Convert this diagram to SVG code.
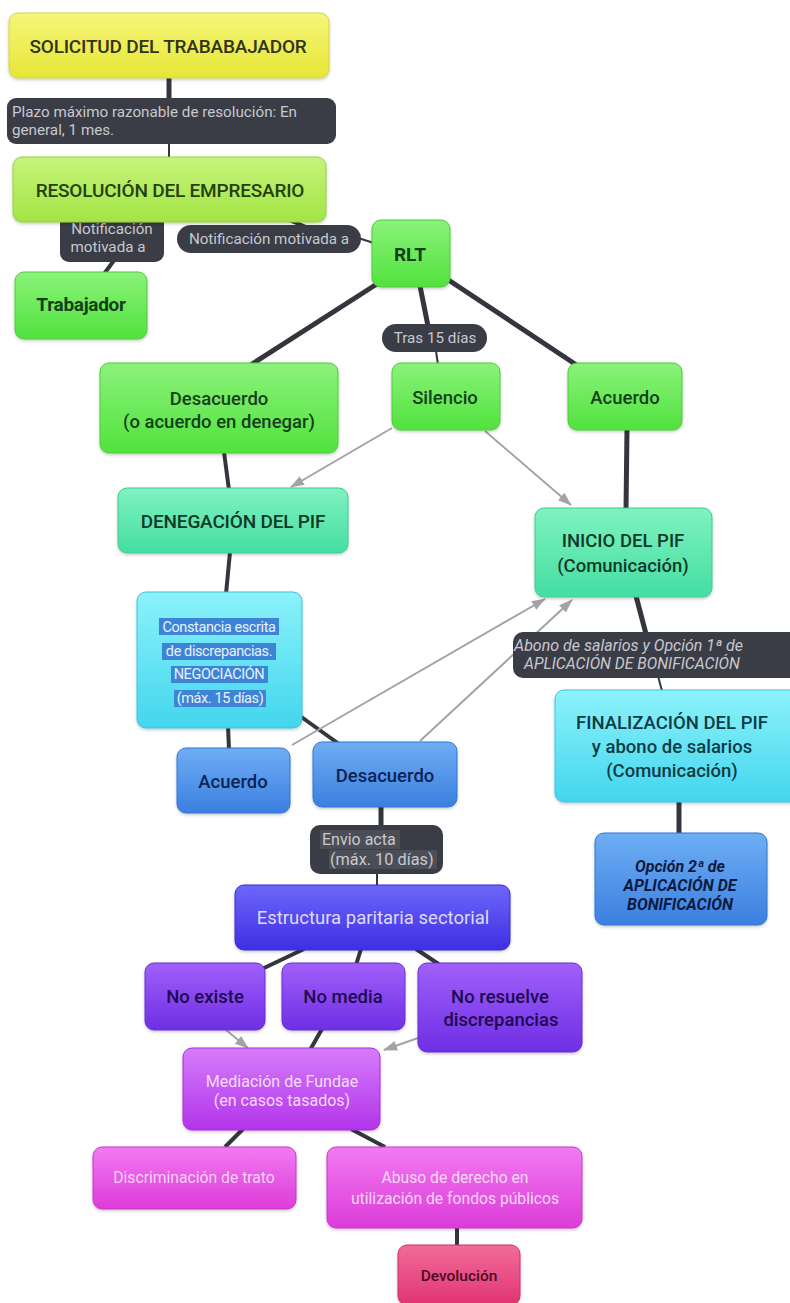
<svg xmlns="http://www.w3.org/2000/svg" width="790" height="1303" viewBox="0 0 790 1303">
  <defs>
    <linearGradient id="g-yellow" x1="0" y1="0" x2="0" y2="1">
      <stop offset="0" stop-color="#f6f67a"/><stop offset="1" stop-color="#e6e636"/>
    </linearGradient>
    <linearGradient id="g-lime" x1="0" y1="0" x2="0" y2="1">
      <stop offset="0" stop-color="#c6f47a"/><stop offset="1" stop-color="#a2e444"/>
    </linearGradient>
    <linearGradient id="g-green" x1="0" y1="0" x2="0" y2="1">
      <stop offset="0" stop-color="#8af27a"/><stop offset="1" stop-color="#52e23e"/>
    </linearGradient>
    <linearGradient id="g-mint" x1="0" y1="0" x2="0" y2="1">
      <stop offset="0" stop-color="#7ff2c0"/><stop offset="1" stop-color="#44dea2"/>
    </linearGradient>
    <linearGradient id="g-cyan" x1="0" y1="0" x2="0" y2="1">
      <stop offset="0" stop-color="#8cf2fa"/><stop offset="1" stop-color="#42d6ee"/>
    </linearGradient>
    <linearGradient id="g-blue" x1="0" y1="0" x2="0" y2="1">
      <stop offset="0" stop-color="#6eaef4"/><stop offset="1" stop-color="#3b7fe0"/>
    </linearGradient>
    <linearGradient id="g-indigo" x1="0" y1="0" x2="0" y2="1">
      <stop offset="0" stop-color="#6e66fa"/><stop offset="1" stop-color="#3e2fe2"/>
    </linearGradient>
    <linearGradient id="g-violet" x1="0" y1="0" x2="0" y2="1">
      <stop offset="0" stop-color="#a060fa"/><stop offset="1" stop-color="#6e2ee4"/>
    </linearGradient>
    <linearGradient id="g-purple" x1="0" y1="0" x2="0" y2="1">
      <stop offset="0" stop-color="#d67cfa"/><stop offset="1" stop-color="#b234ea"/>
    </linearGradient>
    <linearGradient id="g-magenta" x1="0" y1="0" x2="0" y2="1">
      <stop offset="0" stop-color="#f27af2"/><stop offset="1" stop-color="#dc3cd8"/>
    </linearGradient>
    <linearGradient id="g-pink" x1="0" y1="0" x2="0" y2="1">
      <stop offset="0" stop-color="#f26c9a"/><stop offset="1" stop-color="#e03472"/>
    </linearGradient>
    <filter id="soft" x="-10%" y="-10%" width="120%" height="130%">
      <feDropShadow dx="0" dy="1.5" stdDeviation="1.5" flood-color="#000" flood-opacity="0.22"/>
    </filter>
    <marker id="arrow" viewBox="0 0 14 10" refX="13" refY="5" markerWidth="14" markerHeight="10" markerUnits="userSpaceOnUse" orient="auto">
      <path d="M0,0 L14,5 L0,10 Z" fill="#a3a3a6"/>
    </marker>
  </defs>
  <style>
    text { font-family: Roboto, "Liberation Sans", sans-serif; text-anchor: middle; }
    .node rect.box { filter: url(#soft); stroke-width: 1; }
    .node text { font-weight: 500; }
    .t18 { font-size: 18.5px; }
    .t16 { font-size: 16px; }
    .caps { font-size: 19px; letter-spacing: -0.2px; }
    .pill { fill: #3a3c46; }
    .pill-text { font-size: 15.2px; fill: #c8c9cf; }
    .thick { stroke: #34363e; stroke-width: 5; fill: none; stroke-linecap: butt; }
    .mid { stroke: #34363e; stroke-width: 4; fill: none; }
    .thin { stroke: #34363e; stroke-width: 2; fill: none; }
    .flow { stroke: #a3a3a6; stroke-width: 2; fill: none; marker-end: url(#arrow); }
  </style>

  <rect x="0" y="0" width="790" height="1303" fill="#ffffff"/>

  <!-- connectors -->
  <g id="connectors">
    <line class="thick" x1="169" y1="78" x2="169" y2="99"/>
    <line class="thin" x1="169" y1="143" x2="169" y2="158"/>
    <line class="mid" x1="90" y1="215" x2="108" y2="240"/>
    <line class="mid" x1="115" y1="259" x2="104" y2="274"/>
    <line class="mid" x1="270" y1="212" x2="318" y2="232"/>
    <line class="thin" x1="358" y1="238" x2="374" y2="243"/>
    <line class="thick" x1="380" y1="282" x2="249" y2="366" stroke-width="5.5"/>
    <line class="thick" x1="420" y1="286" x2="428" y2="326"/>
    <line class="thin" x1="436" y1="351" x2="438" y2="365"/>
    <line class="thick" x1="447" y1="279" x2="578" y2="366" stroke-width="5.5"/>
    <line class="mid" x1="224" y1="452" x2="229" y2="490"/>
    <line class="thick" x1="627" y1="429" x2="626" y2="510"/>
    <line class="mid" x1="230" y1="552" x2="226" y2="594"/>
    <line class="mid" x1="228" y1="726" x2="229" y2="750"/>
    <line class="mid" x1="300" y1="716" x2="339" y2="744"/>
    <line class="thick" x1="636" y1="596" x2="646" y2="634"/>
    <line class="thin" x1="658" y1="676" x2="662" y2="691"/>
    <line class="thick" x1="679" y1="801" x2="679" y2="835"/>
    <line class="thick" x1="381" y1="806" x2="381" y2="826"/>
    <line class="thin" x1="377" y1="872" x2="377" y2="887"/>
    <line class="mid" x1="304" y1="949" x2="262" y2="969"/>
    <line class="mid" x1="361" y1="949" x2="356" y2="965"/>
    <line class="mid" x1="416" y1="949" x2="440" y2="965"/>
    <line class="mid" x1="322" y1="1029" x2="310" y2="1050"/>
    <line class="mid" x1="243" y1="1129" x2="225" y2="1147"/>
    <line class="mid" x1="351" y1="1129" x2="385" y2="1147"/>
    <line class="mid" x1="457" y1="1226" x2="457" y2="1246"/>
    <!-- directed links -->
    <line class="flow" x1="392" y1="428" x2="291" y2="487"/>
    <line class="flow" x1="485" y1="431" x2="571" y2="505"/>
    <line class="flow" x1="292" y1="745" x2="545" y2="599"/>
    <line class="flow" x1="420" y1="741" x2="572" y2="600"/>
    <line class="flow" x1="226" y1="1030" x2="248" y2="1048"/>
    <line class="flow" x1="418" y1="1038" x2="384" y2="1050"/>
  </g>

  <!-- connector labels -->
  <g id="lbl-plazo">
    <rect class="pill" x="7" y="98" width="329" height="46" rx="9"/>
    <text class="pill-text" x="12" y="117" style="text-anchor:start">Plazo máximo razonable de resolución: En</text>
    <text class="pill-text" x="12" y="135" style="text-anchor:start">general, 1 mes.</text>
  </g>
  <g id="lbl-notif-trab">
    <rect class="pill" x="60" y="214" width="104" height="48" rx="9"/>
    <text class="pill-text" x="112" y="234">Notificación</text>
    <text class="pill-text" x="108" y="252">motivada a</text>
  </g>
  <g id="lbl-notif-rlt">
    <rect class="pill" x="177" y="225" width="184" height="28" rx="14"/>
    <text class="pill-text" x="269" y="244">Notificación motivada a</text>
  </g>
  <g id="lbl-tras">
    <rect class="pill" x="382" y="324" width="105" height="28" rx="14"/>
    <text class="pill-text" x="435" y="343">Tras 15 días</text>
  </g>
  <g id="lbl-abono">
    <rect class="pill" x="513" y="632" width="290" height="46" rx="10"/>
    <text class="pill-text" x="514" y="651" style="text-anchor:start;font-style:italic;font-size:16px">Abono de salarios y Opción 1ª de</text>
    <text class="pill-text" x="524" y="669" style="text-anchor:start;font-style:italic;font-size:15.7px">APLICACIÓN DE BONIFICACIÓN</text>
  </g>
  <g id="lbl-envio">
    <rect class="pill" x="310" y="825" width="133" height="49" rx="10"/>
    <rect x="320" y="830" width="80" height="19" fill="#4c4e57"/>
    <rect x="329" y="850" width="108" height="19" fill="#4c4e57"/>
    <text class="pill-text" x="322" y="845" style="text-anchor:start;font-size:16px">Envio acta</text>
    <text class="pill-text" x="330" y="865" style="text-anchor:start;font-size:16.3px">(máx. 10 días)</text>
  </g>

  <!-- nodes -->
  <g id="n-solicitud" class="node">
    <rect class="box" x="9" y="13" width="320" height="65" rx="9" fill="url(#g-yellow)" stroke="#d4d44a"/>
    <text class="caps" x="168" y="53" fill="#33331a">SOLICITUD DEL TRABABAJADOR</text>
  </g>
  <g id="n-resolucion" class="node">
    <rect class="box" x="13" y="157" width="313" height="65" rx="9" fill="url(#g-lime)" stroke="#94d23e"/>
    <text class="caps" x="170" y="197" fill="#27400e">RESOLUCIÓN DEL EMPRESARIO</text>
  </g>
  <g id="n-trabajador" class="node">
    <rect class="box" x="15" y="272" width="132" height="67" rx="9" fill="url(#g-green)" stroke="#4ccc3a"/>
    <text x="81" y="311" fill="#14401a" font-size="19" style="font-weight:700" letter-spacing="-0.3">Trabajador</text>
  </g>
  <g id="n-rlt" class="node">
    <rect class="box" x="372" y="220" width="78" height="67" rx="9" fill="url(#g-green)" stroke="#4ccc3a"/>
    <text x="410" y="261" fill="#14401a" font-size="19" style="font-weight:700">RLT</text>
  </g>
  <g id="n-desacuerdo-rlt" class="node">
    <rect class="box" x="100" y="363" width="238" height="90" rx="9" fill="url(#g-green)" stroke="#4ccc3a"/>
    <text class="t18" x="219" y="405" fill="#14401a">Desacuerdo</text>
    <text class="t18" x="219" y="428" fill="#14401a">(o acuerdo en denegar)</text>
  </g>
  <g id="n-silencio" class="node">
    <rect class="box" x="392" y="363" width="108" height="67" rx="9" fill="url(#g-green)" stroke="#4ccc3a"/>
    <text class="t18" x="445" y="404" fill="#14401a">Silencio</text>
  </g>
  <g id="n-acuerdo-rlt" class="node">
    <rect class="box" x="568" y="363" width="114" height="67" rx="9" fill="url(#g-green)" stroke="#4ccc3a"/>
    <text class="t18" x="625" y="404" fill="#14401a">Acuerdo</text>
  </g>
  <g id="n-denegacion" class="node">
    <rect class="box" x="118" y="488" width="230" height="65" rx="9" fill="url(#g-mint)" stroke="#3ccc92"/>
    <text class="caps" x="233" y="528" fill="#0f3a28">DENEGACIÓN DEL PIF</text>
  </g>
  <g id="n-inicio" class="node">
    <rect class="box" x="535" y="508" width="177" height="89" rx="9" fill="url(#g-mint)" stroke="#3ccc92"/>
    <text class="t18" x="623" y="547" fill="#0f3a28">INICIO DEL PIF</text>
    <text class="t18" x="623" y="572" fill="#0f3a28">(Comunicación)</text>
  </g>
  <g id="n-constancia" class="node">
    <rect class="box" x="137" y="592" width="165" height="136" rx="9" fill="url(#g-cyan)" stroke="#3cc4dc"/>
    <rect x="159" y="618" width="120" height="17" fill="#3e84d6"/>
    <rect x="162" y="643" width="114" height="17" fill="#3e84d6"/>
    <rect x="171" y="666" width="97" height="17" fill="#3e84d6"/>
    <rect x="174" y="690" width="92" height="17" fill="#3e84d6"/>
    <text x="219" y="632" fill="#e6f2ff" font-size="14.5" style="font-weight:400" letter-spacing="-0.4">Constancia escrita</text>
    <text x="219" y="656" fill="#e6f2ff" font-size="14.5" style="font-weight:400" letter-spacing="-0.4">de discrepancias.</text>
    <text x="219" y="679" fill="#e6f2ff" font-size="14.5" style="font-weight:400" letter-spacing="-0.4">NEGOCIACIÓN</text>
    <text x="220" y="703" fill="#e6f2ff" font-size="14.5" style="font-weight:400" letter-spacing="-0.4">(máx. 15 días)</text>
  </g>
  <g id="n-finalizacion" class="node">
    <rect class="box" x="555" y="690" width="245" height="112" rx="9" fill="url(#g-cyan)" stroke="#3cc4dc"/>
    <text class="t18" x="672" y="729" fill="#0e3b44">FINALIZACIÓN DEL PIF</text>
    <text class="t18" x="672" y="753" fill="#0e3b44">y abono de salarios</text>
    <text class="t18" x="672" y="777" fill="#0e3b44">(Comunicación)</text>
  </g>
  <g id="n-acuerdo-neg" class="node">
    <rect class="box" x="177" y="748" width="113" height="65" rx="9" fill="url(#g-blue)" stroke="#3474d2"/>
    <text class="t18" x="233" y="788" fill="#0c2352">Acuerdo</text>
  </g>
  <g id="n-desacuerdo-neg" class="node">
    <rect class="box" x="313" y="742" width="144" height="65" rx="9" fill="url(#g-blue)" stroke="#3474d2"/>
    <text class="t18" x="385" y="782" fill="#0c2352">Desacuerdo</text>
  </g>
  <g id="n-opcion2" class="node">
    <rect class="box" x="595" y="833" width="172" height="92" rx="9" fill="url(#g-blue)" stroke="#3474d2"/>
    <text x="680" y="872" fill="#0a1a40" font-size="16" style="font-weight:700" font-style="italic">Opción 2ª de</text>
    <text x="680" y="891" fill="#0a1a40" font-size="16" style="font-weight:700" font-style="italic">APLICACIÓN DE</text>
    <text x="680" y="910" fill="#0a1a40" font-size="16" style="font-weight:700" font-style="italic">BONIFICACIÓN</text>
  </g>
  <g id="n-estructura" class="node">
    <rect class="box" x="235" y="885" width="275" height="65" rx="9" fill="url(#g-indigo)" stroke="#3a2cd0"/>
    <text x="373" y="924" fill="#dcdcff" font-size="18.5" style="font-weight:400">Estructura paritaria sectorial</text>
  </g>
  <g id="n-noexiste" class="node">
    <rect class="box" x="145" y="963" width="120" height="67" rx="9" fill="url(#g-violet)" stroke="#6a2cd6"/>
    <text class="t18" x="205" y="1003" fill="#1e0a4e">No existe</text>
  </g>
  <g id="n-nomedia" class="node">
    <rect class="box" x="282" y="963" width="123" height="67" rx="9" fill="url(#g-violet)" stroke="#6a2cd6"/>
    <text class="t18" x="343" y="1003" fill="#1e0a4e">No media</text>
  </g>
  <g id="n-noresuelve" class="node">
    <rect class="box" x="418" y="963" width="164" height="89" rx="9" fill="url(#g-violet)" stroke="#6a2cd6"/>
    <text class="t18" x="500" y="1003" fill="#1e0a4e">No resuelve</text>
    <text class="t18" x="501" y="1026" fill="#1e0a4e">discrepancias</text>
  </g>
  <g id="n-mediacion" class="node">
    <rect class="box" x="183" y="1048" width="197" height="82" rx="9" fill="url(#g-purple)" stroke="#a62ee0"/>
    <text class="t16" x="282" y="1087" fill="#f4dcff" style="font-weight:400">Mediación de Fundae</text>
    <text class="t16" x="282" y="1106" fill="#f4dcff" style="font-weight:400">(en casos tasados)</text>
  </g>
  <g id="n-discriminacion" class="node">
    <rect class="box" x="93" y="1147" width="203" height="62" rx="9" fill="url(#g-magenta)" stroke="#cc34cc"/>
    <text x="194" y="1183" fill="#f8d2f8" font-size="15.7" style="font-weight:400">Discriminación de trato</text>
  </g>
  <g id="n-abuso" class="node">
    <rect class="box" x="327" y="1147" width="255" height="81" rx="9" fill="url(#g-magenta)" stroke="#cc34cc"/>
    <text x="455" y="1183" fill="#f8d8f8" font-size="15.7" style="font-weight:400">Abuso de derecho en</text>
    <text x="455" y="1204" fill="#f8d8f8" font-size="15.7" style="font-weight:400">utilización de fondos públicos</text>
  </g>
  <g id="n-devolucion" class="node">
    <rect class="box" x="398" y="1245" width="122" height="60" rx="9" fill="url(#g-pink)" stroke="#d22e68"/>
    <text x="459" y="1281" fill="#4a0c22" font-size="15.5">Devolución</text>
  </g>
</svg>
